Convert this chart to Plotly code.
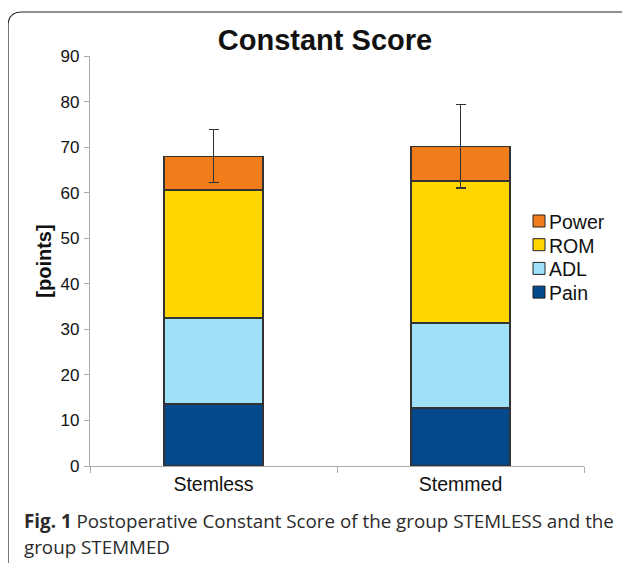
import plotly.graph_objects as go

categories = ["Stemless", "Stemmed"]
pain = [13.6, 12.7]
adl = [18.9, 18.7]
rom = [28.1, 31.2]
power = [7.4, 7.6]
power_err = [5.8, 9.2]

series_names = ["Pain", "ADL", "ROM", "Power"]
series_values = [pain, adl, rom, power]
colors = ["#03498C", "#A0E1FA", "#FFD600", "#F07C1B"]

fig = go.Figure()
for name, vals, col in zip(series_names, series_values, colors):
    kw = {}
    if name == "Power":
        kw["error_y"] = dict(type="data", array=power_err, visible=True,
                             color="#333333", thickness=1.3, width=5)
    fig.add_trace(go.Bar(x=categories, y=vals, name=name,
                         marker=dict(color=col, line=dict(color="#333333", width=1.4)),
                         **kw))

# page offset (browser body margin)
O = 8
W, H = 630 - O, 563 - O
# plot area in page coords: x 90..584, y 56..466
PL, PR, PT, PB = 90, 584, 56, 466
L, R, T, B = PL - O, (W + O) - PR, PT - O, (H + O) - PB
pw, ph = PR - PL, PB - PT

def px(x):
    return (x - PL) / pw

def py(y):
    return (PB - y) / ph

# rounded frame
r = 14
path = (f"M {px(8)},{py(570)} L {px(8)},{py(12+r)} "
        f"Q {px(8)},{py(12)} {px(8+r)},{py(12)} L {px(640)},{py(12)}")
fig.add_shape(type="path", path=path, xref="paper", yref="paper",
              line=dict(color="#222222", width=1.2))

# manual legend (top item first)
leg_y0, leg_dy = 221, 23.7
for i, (name, col) in enumerate(reversed(list(zip(series_names, colors)))):
    cy = leg_y0 + i * leg_dy
    fig.add_shape(type="rect", xref="paper", yref="paper",
                  x0=px(533), x1=px(545), y0=py(cy - 6), y1=py(cy + 6),
                  fillcolor=col, line=dict(color="#222222", width=1))
    fig.add_annotation(text=name, xref="paper", yref="paper",
                       x=px(547), y=py(cy + 1), xanchor="left", yanchor="middle",
                       showarrow=False,
                       font=dict(size=19.5, color="#111111"))

fig.update_layout(
    width=W, height=H,
    margin=dict(l=L, r=R, t=T, b=B, autoexpand=False),
    barmode="stack",
    bargap=0.6,
    paper_bgcolor="white",
    plot_bgcolor="white",
    showlegend=False,
    font=dict(family="Liberation Sans, Arial, sans-serif", color="#111111"),
    title=dict(text="<b>Constant Score</b>", x=(325 - O) / W, xanchor="center",
               xref="container", y=1 - (40 - O) / H, yanchor="middle",
               font=dict(size=29, color="#111111")),
    xaxis=dict(showline=True, linecolor="#aaaaaa", linewidth=1.2,
               ticks="outside", tickson="boundaries", ticklen=6,
               tickcolor="#aaaaaa", tickfont=dict(size=19.5, color="#111111"),
               showgrid=False, automargin=False),
    yaxis=dict(range=[0, 90], dtick=10, showline=True, linecolor="#aaaaaa",
               linewidth=1.2, ticks="outside", ticklen=5, tickcolor="#aaaaaa",
               tickfont=dict(size=17, color="#111111"), showgrid=False,
               zeroline=False, automargin=False, ticklabelstandoff=1,
               title=dict(text="<b>[points]</b>", font=dict(size=20), standoff=3)),
)

cap_font = dict(family="Open Sans, Noto Sans, sans-serif", size=18.8, color="#2b2b2b")
fig.add_annotation(
    text="<b>Fig. 1</b> Postoperative Constant Score of the group STEMLESS and the",
    xref="paper", yref="paper", x=px(22), y=py(521), xanchor="left", yanchor="middle",
    showarrow=False, font=cap_font)
fig.add_annotation(
    text="group STEMMED",
    xref="paper", yref="paper", x=px(22), y=py(547), xanchor="left", yanchor="middle",
    showarrow=False, font=cap_font)

fig.write_html("out.html")
